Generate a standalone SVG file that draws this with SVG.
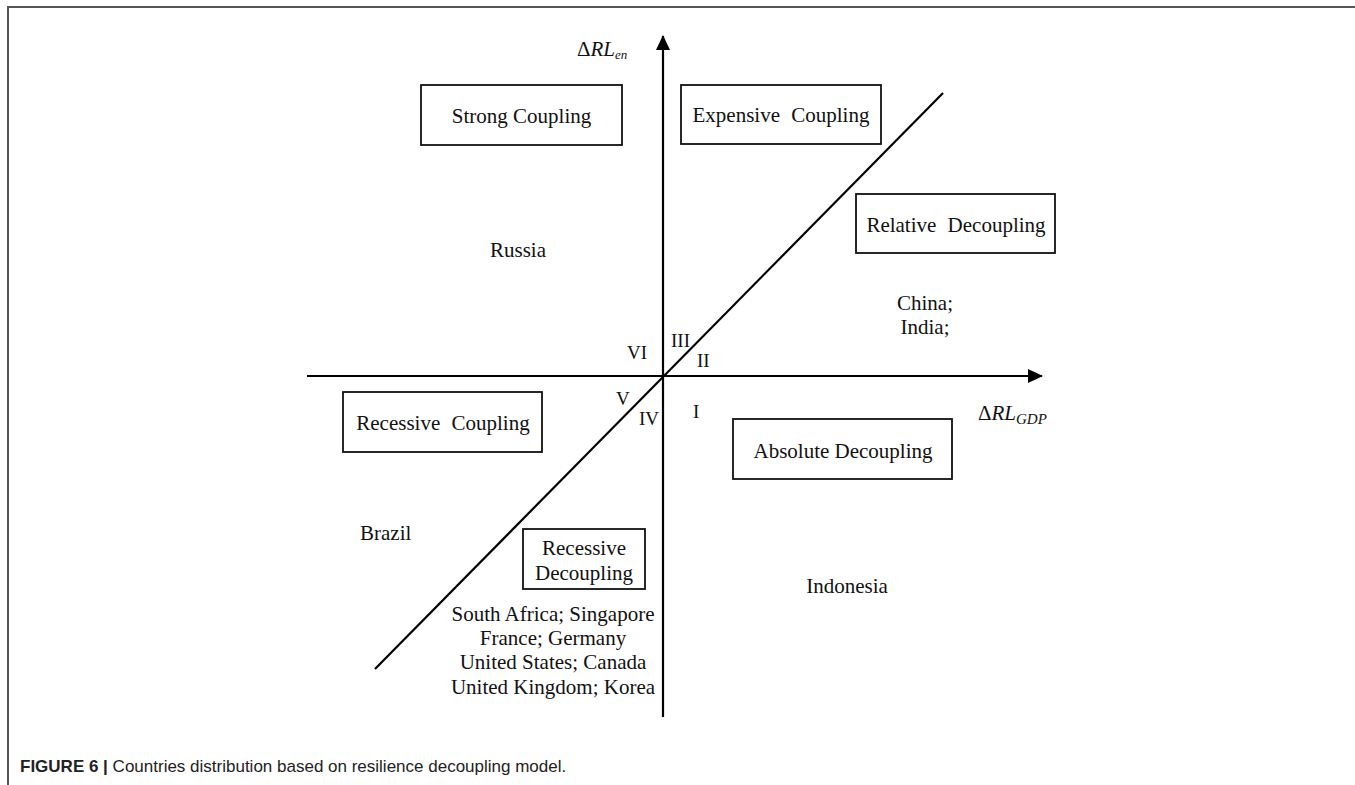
<svg xmlns="http://www.w3.org/2000/svg" width="1355" height="785" viewBox="0 0 1355 785">
<style>
.t{font-family:"Liberation Serif","Times New Roman",serif;font-size:21px;fill:#111;}
.c{text-anchor:middle;}
.n{font-family:"Liberation Serif","Times New Roman",serif;font-size:19px;fill:#111;}
.box{fill:#fff;stroke:#111;stroke-width:1.8;}
.ax{stroke:#000;stroke-width:2.2;fill:none;}
.cap{font-family:"Liberation Sans",Arial,sans-serif;font-size:17px;fill:#222;}
</style>
<defs>
<marker id="arr" markerWidth="16" markerHeight="16" refX="14" refY="7" orient="auto" markerUnits="userSpaceOnUse">
<path d="M0,0 L15,7 L0,14 Z" fill="#000"/>
</marker>
</defs>
<rect x="0" y="0" width="1355" height="785" fill="#fff"/>
<path d="M8,785 V7 H1355" fill="none" stroke="#555" stroke-width="2"/>
<g id="connectors">
<line class="ax" x1="663" y1="717" x2="663" y2="36" marker-end="url(#arr)"/>
<line class="ax" x1="307" y1="376" x2="1042" y2="376" marker-end="url(#arr)"/>
<line class="ax" x1="375" y1="669" x2="943" y2="93"/>
</g>
<g id="axis-y-label"><text class="t" x="577" y="56" font-style="italic"><tspan font-style="normal">Δ</tspan>RL<tspan font-size="13" dy="3">en</tspan></text></g>
<g id="axis-x-label"><text class="t" x="978" y="420" font-style="italic"><tspan font-style="normal">Δ</tspan>RL<tspan font-size="15" dy="4">GDP</tspan></text></g>
<g id="strong-coupling"><rect class="box" x="421" y="85" width="201" height="60"/><text class="t c" x="521.5" y="123">Strong Coupling</text></g>
<g id="expensive-coupling"><rect class="box" x="681" y="85" width="200" height="59"/><text class="t c" x="781" y="122" word-spacing="6">Expensive Coupling</text></g>
<g id="relative-decoupling"><rect class="box" x="856" y="194" width="199" height="59"/><text class="t c" x="956" y="232" word-spacing="6">Relative Decoupling</text></g>
<g id="recessive-coupling"><rect class="box" x="343" y="392" width="199" height="60"/><text class="t c" x="443" y="430" word-spacing="6">Recessive Coupling</text></g>
<g id="absolute-decoupling"><rect class="box" x="733" y="419" width="219" height="60"/><text class="t c" x="843" y="458">Absolute Decoupling</text></g>
<g id="recessive-decoupling"><rect class="box" x="523" y="529" width="122" height="60"/><text class="t c" x="584" y="555">Recessive</text><text class="t c" x="584" y="580">Decoupling</text></g>
<g id="regions">
<text class="n" x="627" y="359">VI</text>
<text class="n" x="671" y="347">III</text>
<text class="n" x="697" y="367">II</text>
<text class="n" x="616" y="405">V</text>
<text class="n" x="639" y="425">IV</text>
<text class="n" x="693" y="418">I</text>
</g>
<g id="countries">
<text class="t c" x="518" y="257">Russia</text>
<text class="t c" x="925" y="310">China;</text>
<text class="t c" x="925" y="334">India;</text>
<text class="t" x="360" y="540">Brazil</text>
<text class="t c" x="847" y="593">Indonesia</text>
<text class="t c" x="553" y="621">South Africa; Singapore</text>
<text class="t c" x="553" y="645">France; Germany</text>
<text class="t c" x="553" y="669">United States; Canada</text>
<text class="t c" x="553" y="694">United Kingdom; Korea</text>
</g>
<g id="caption"><text class="cap" x="20" y="772"><tspan font-weight="bold">FIGURE 6 |</tspan> Countries distribution based on resilience decoupling model.</text></g>
</svg>
